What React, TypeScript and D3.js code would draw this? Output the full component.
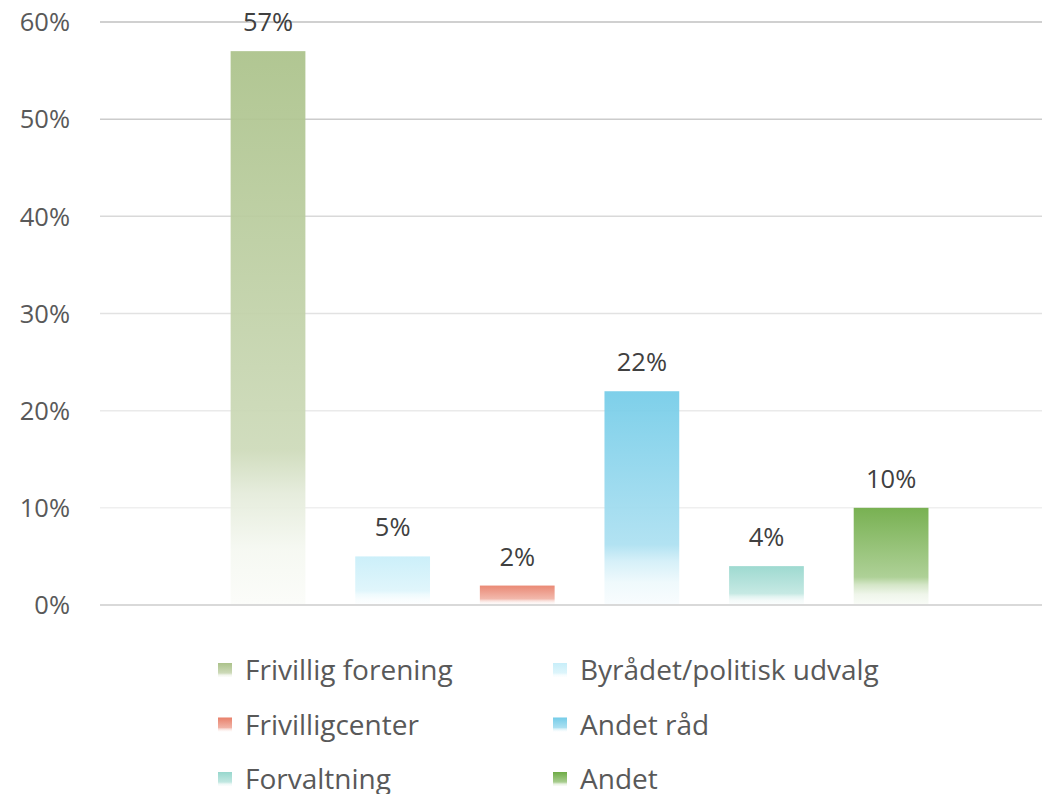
import * as d3 from "d3";

const categories = [
  "Frivillig forening",
  "Byrådet/politisk udvalg",
  "Frivilligcenter",
  "Andet råd",
  "Forvaltning",
  "Andet",
];
const values = [57, 5, 2, 22, 4, 10];
const colors = ["#abc28a", "#c8eef9", "#e8806a", "#74cce8", "#97d7cd", "#6eab45"];
const yTicks = [0, 10, 20, 30, 40, 50, 60];
const gridColors = ["#d9d9d9", "#efefef", "#eaeaea", "#e2e2e2", "#d9d9d9", "#cccccc", "#c0c0c0"];

const W = 1042;
const H = 794;
const font = "'Open Sans', sans-serif";

function safeId(s: string) {
  return s.toLowerCase().replace(/[^a-z0-9]+/g, "-");
}

function Gradient({ id, color }: { id: string; color: string }) {
  const mix = d3.interpolateRgb(color, "#ffffff");
  return (
    <linearGradient id={id} x1="0" y1="0" x2="0" y2="1">
      <stop offset="0%" stopColor={color} />
      <stop offset="72%" stopColor={mix(0.4)} />
      <stop offset="80%" stopColor={mix(0.68)} />
      <stop offset="90%" stopColor={mix(0.88)} />
      <stop offset="100%" stopColor={mix(0.95)} />
    </linearGradient>
  );
}

export default function App() {
  const y = d3.scaleLinear().domain([0, 60]).range([605, 22]);
  const x = d3
    .scaleBand<string>()
    .domain(categories)
    .range([205.7, 953.4])
    .paddingInner(0.4)
    .paddingOuter(0.2);

  const gridLeft = 100;
  const gridRight = W;

  return (
    <svg
      width={W}
      height={H}
      style={{ position: "absolute", left: 0, top: 0, background: "#fff" }}
      fontFamily={font}
    >
      <defs>
        {categories.map((c, i) => (
          <Gradient key={c} id={`g-${safeId(c)}`} color={colors[i]} />
        ))}
      </defs>

      {/* grid */}
      {yTicks.map((t, i) => (
        <g key={t}>
          <line
            x1={gridLeft}
            x2={gridRight}
            y1={y(t)}
            y2={y(t)}
            stroke={gridColors[i]}
            strokeWidth={t === 0 ? 2 : 1.5}
          />
          <text
            x={70}
            y={y(t)}
            dy="0.36em"
            textAnchor="end"
            fontSize={25.5}
            fill="#595959"
          >
            {t}%
          </text>
        </g>
      ))}

      {/* bars */}
      {categories.map((c, i) => (
        <rect
          key={c}
          x={x(c)}
          y={y(values[i])}
          width={x.bandwidth()}
          height={y(0) - y(values[i]) - 1}
          fill={`url(#g-${safeId(c)})`}
          fillOpacity={0.93}
        />
      ))}

      {/* labels */}
      {categories.map((c, i) => (
        <text
          key={c}
          x={(x(c) ?? 0) + x.bandwidth() / 2}
          y={y(values[i]) - 20}
          textAnchor="middle"
          fontSize={25.5}
          fill="#404040"
        >
          {values[i]}%
        </text>
      ))}

      {/* legend */}
      {categories.map((c, i) => {
        const col = i % 2;
        const row = Math.floor(i / 2);
        const lx = col === 0 ? 218 : 553;
        const ly = 670 + row * 54.5;
        return (
          <g key={c} transform={`translate(${lx}, ${ly})`}>
            <rect x={0} y={-7} width={14} height={14} fill={`url(#g-${safeId(c)})`} />
            <text x={27} y={0} dy="0.36em" fontSize={28} fill="#595959">
              {c}
            </text>
          </g>
        );
      })}
    </svg>
  );
}
